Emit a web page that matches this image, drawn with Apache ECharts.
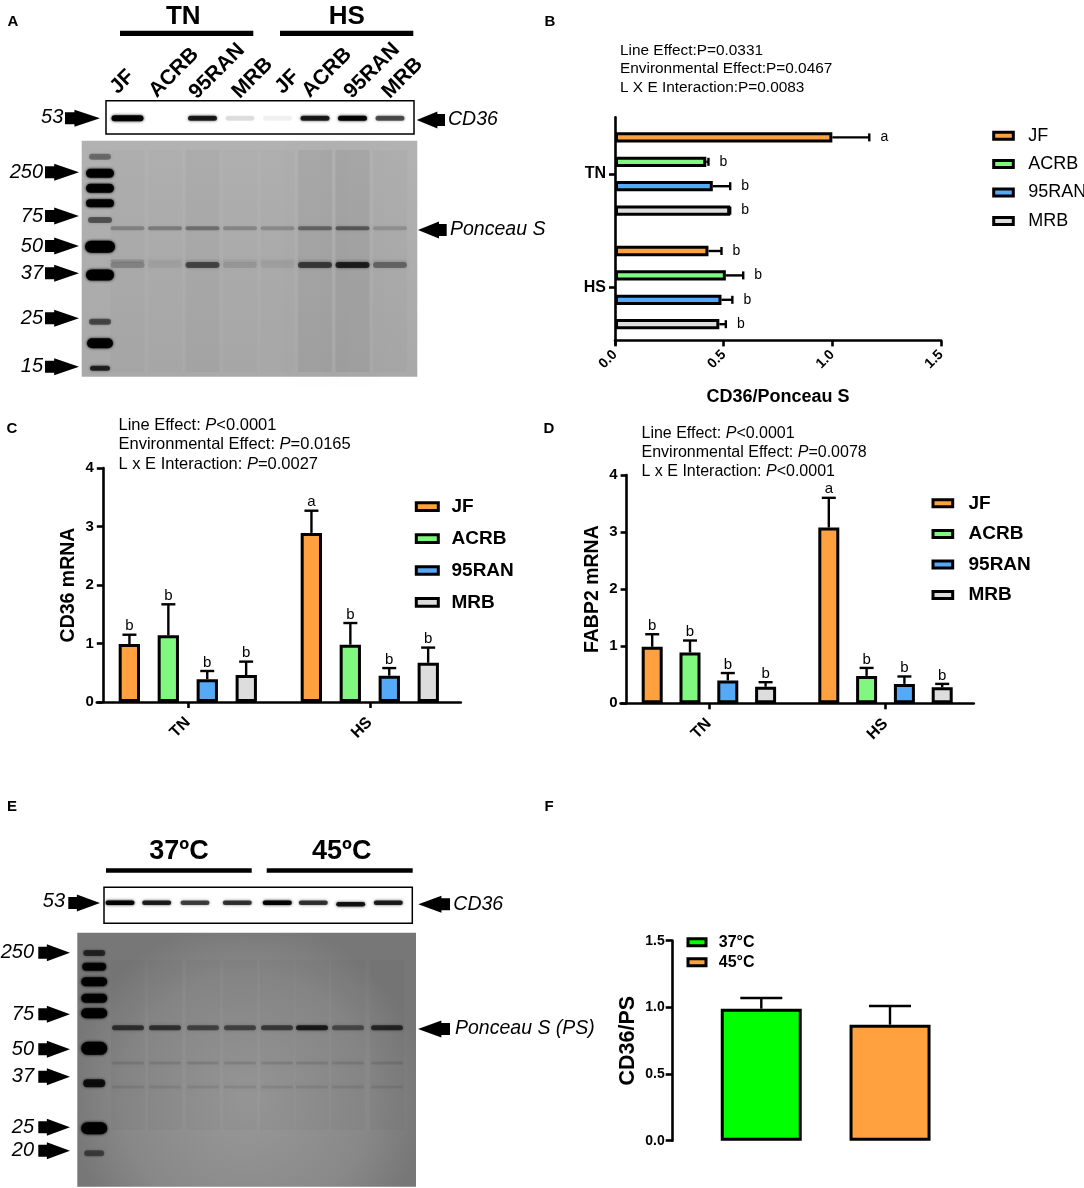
<!DOCTYPE html>
<html>
<head>
<meta charset="utf-8">
<script src="https://cdn.jsdelivr.net/npm/echarts@6/dist/echarts.min.js"></script>
<style>
  html, body { margin: 0; padding: 0; background: #fff; }
  #main { width: 1084px; height: 1188px; }
</style>
</head>
<body>
<div id="main"></div>
<script>
// ---- data ----
const lineNames = ['JF', 'ACRB', '95RAN', 'MRB'];
const envNames = ['TN', 'HS'];
const lineColors = ['#FFA13F', '#80F87F', '#56A9F6', '#DDDDDD'];

// B: CD36/Ponceau S (rows = line, cols = TN, HS)
const protMean = [[1.00, 0.43], [0.42, 0.51], [0.45, 0.49], [0.53, 0.48]];
const protUpper = [[1.17, 0.49], [0.43, 0.59], [0.53, 0.54], [0.53, 0.51]];
const protSig = [['a', 'b'], ['b', 'b'], ['b', 'b'], ['b', 'b']];

// C: CD36 mRNA
const cd36Mean = [[0.99, 2.89], [1.14, 0.98], [0.39, 0.45], [0.46, 0.67]];
const cd36Upper = [[1.15, 3.27], [1.67, 1.35], [0.53, 0.58], [0.69, 0.93]];
const cd36Sig = [['b', 'a'], ['b', 'b'], ['b', 'b'], ['b', 'b']];

// D: FABP2 mRNA
const fabpMean = [[0.99, 3.08], [0.89, 0.48], [0.40, 0.34], [0.29, 0.28]];
const fabpUpper = [[1.21, 3.60], [1.10, 0.62], [0.53, 0.47], [0.37, 0.34]];
const fabpSig = [['b', 'a'], ['b', 'b'], ['b', 'b'], ['b', 'b']];

// F: CD36/PS by temperature
const tempNames = ['37°C', '45°C'];
const tempColors = ['#00FF00', '#FFA13F'];
const tempMean = [0.99, 0.87];
const tempUpper = [1.07, 1.01];

// blot band darkness by lane (0 = none, 1 = black)
const blotACd36 = [0.95, 0.0, 0.8, 0.12, 0.06, 0.8, 0.95, 0.6];
const blotAPs60 = [0.22, 0.25, 0.3, 0.2, 0.18, 0.35, 0.4, 0.15];
const blotAPs37 = [0.2, 0.06, 0.5, 0.1, 0.06, 0.55, 0.7, 0.35];
const blotECd36 = [0.95, 0.8, 0.65, 0.7, 0.95, 0.7, 0.85, 0.8];
const blotEPs = [0.55, 0.55, 0.45, 0.45, 0.5, 0.7, 0.4, 0.6];

const statsB = ['Line Effect:P=0.0331', 'Environmental Effect:P=0.0467', 'L X E Interaction:P=0.0083'];
const statsC = ['Line Effect: {i|P}<0.0001', 'Environmental Effect: {i|P}=0.0165', 'L x E Interaction: {i|P}=0.0027'];
const statsD = ['Line Effect: {i|P}<0.0001', 'Environmental Effect: {i|P}=0.0078', 'L x E Interaction: {i|P}<0.0001'];

// ---- layout ----
const FONT = '"Liberation Sans", Arial, Helvetica, sans-serif';
const AX = { color: '#000', width: 2.6 };
const laneA = [127.5, 165, 202.5, 240, 277.5, 315, 352.5, 390];
const laneECd = [120, 156.7, 195, 237.3, 277.3, 313.3, 350.7, 388.3];
const laneEPs = [128, 165, 203, 240, 277, 312, 348, 387];

const g = [];
function T(x, y, text, size, o) {
  o = o || {};
  const st = {
    text: text, fill: '#000', fontFamily: FONT, fontSize: size,
    fontWeight: o.bold ? 'bold' : 'normal', fontStyle: o.italic ? 'italic' : 'normal',
    align: o.align || 'left', verticalAlign: o.va || 'middle',
    textAlign: o.align || 'left', textVerticalAlign: o.va || 'middle'
  };
  if (o.rich) st.rich = o.rich;
  g.push({ type: 'text', x: x, y: y, rotation: o.rot || 0, z: 20, silent: true, style: st });
}
function R(x, y, w, h, fill, o) {
  o = o || {};
  g.push({ type: 'rect', z: o.z || 10, silent: true,
    shape: { x: x, y: y, width: w, height: h, r: o.r || 0 },
    style: { fill: fill, stroke: o.stroke || null, lineWidth: o.lw || 0,
      shadowBlur: o.blur || 0, shadowColor: o.blur ? fill : 'transparent' } });
}
function arrowR(x0, x1, y) {
  const s = x0 + (x1 - x0) * 0.27, sh = 6, hh = 8.5;
  g.push({ type: 'polygon', z: 20, silent: true, style: { fill: '#000' },
    shape: { points: [[x0, y - sh], [s, y - sh], [s, y - hh], [x1, y], [s, y + hh], [s, y + sh], [x0, y + sh]] } });
}
function arrowL(x0, x1, y) {
  const s = x1 - (x1 - x0) * 0.27, sh = 6, hh = 8.5;
  g.push({ type: 'polygon', z: 20, silent: true, style: { fill: '#000' },
    shape: { points: [[x1, y - sh], [s, y - sh], [s, y - hh], [x0, y], [s, y + hh], [s, y + sh], [x1, y + sh]] } });
}
function band(cx, cy, w, h, a) {
  if (a <= 0) return;
  R(cx - w / 2, cy - h / 2, w, h, 'rgba(0,0,0,' + a + ')', { r: h / 2, blur: 3 });
}
function stats(x, y0, dy, lines, size) {
  lines.forEach(function (s, i) {
    T(x, y0 + i * dy, s, size, { rich: { i: { fontStyle: 'italic', fontSize: size, fontFamily: FONT, fill: '#000' } } });
  });
}

// panel letters
[['A', 13, 22], ['B', 550, 22], ['C', 12, 429], ['D', 549, 429], ['E', 12, 807], ['F', 549, 807]]
  .forEach(function (p) { T(p[1], p[2], p[0], 15, { bold: true, align: 'center' }); });

// ---- panel A blot ----
T(183.3, 17, 'TN', 26, { bold: true, align: 'center' });
T(346.7, 17, 'HS', 26, { bold: true, align: 'center' });
R(120, 30.7, 133.3, 5.3, '#000');
R(280, 30.7, 133.3, 5.3, '#000');
[[118, 95], [157, 98.5], [197, 100], [240, 99.5], [283, 95], [310, 98.5], [352, 99.5], [390, 99.5]]
  .forEach(function (p, i) {
    T(p[0] + 3, p[1] + 3, lineNames[i % 4], 21, { bold: true, rot: Math.PI / 4, va: 'bottom' });
  });
R(106, 100.7, 308, 33.3, '#fff', { stroke: '#000', lw: 1.5 });
laneA.forEach(function (x, i) { band(x, 118.3, i === 0 ? 32 : 29, i === 0 ? 6 : 5, blotACd36[i]); });
T(63.3, 117, '53', 20, { italic: true, align: 'right' });
arrowR(65, 100, 118.3);
arrowL(416.7, 445, 120);
T(448, 120, 'CD36', 19.5, { italic: true });

R(81.7, 140.7, 335.6, 236, { type: 'linear', x: 0, y: 0, x2: 0, y2: 1,
  colorStops: [{ offset: 0, color: '#b2b2b2' }, { offset: 1, color: '#a9a9a9' }] });
[0.02, 0.015, 0.03, 0.015, 0.01, 0.05, 0.06, 0.02].forEach(function (a, i) {
  R(laneA[i] - 17, 150, 34, 222, 'rgba(0,0,0,' + a + ')', { blur: 10 });
});
laneA.forEach(function (x, i) {
  band(x, 228.3, 34, 4, blotAPs60[i]);
  band(x, 265, 34, 6, blotAPs37[i]);
  band(x, 261, 34, 3, i === 0 ? 0.15 : 0.05);
});
[[156.7, 0.35, 22, 6], [173.3, 0.95, 28, 9], [188.3, 0.95, 28, 9], [203.3, 0.95, 28, 8], [220, 0.45, 24, 6],
 [246.7, 1, 30, 12], [275, 1, 28, 11], [321.7, 0.5, 22, 6], [343.3, 0.95, 26, 10], [368.3, 0.7, 20, 5]]
  .forEach(function (b) { band(100, b[0], b[2], b[3], b[1]); });
[['250', 172.3], ['75', 216], ['50', 246], ['37', 273.3], ['25', 318.3], ['15', 366.7]].forEach(function (m) {
  T(43, m[1], m[0], 20, { italic: true, align: 'right' });
  arrowR(45, 79, m[1]);
});
arrowL(418, 446.7, 230);
T(450, 230, 'Ponceau S', 19.5, { italic: true });

// ---- panel E blot ----
T(179, 851.7, '37ºC', 27, { bold: true, align: 'center' });
T(341.7, 851.7, '45ºC', 27, { bold: true, align: 'center' });
R(106, 868.3, 145.7, 4.4, '#000');
R(266.7, 868.3, 146, 4.4, '#000');
R(104, 887.3, 308.3, 36, '#fff', { stroke: '#000', lw: 1.5 });
laneECd.forEach(function (x, i) { band(x, i === 6 ? 904.3 : 902.7, 29, 4.5, blotECd36[i]); });
T(65, 901.7, '53', 20, { italic: true, align: 'right' });
arrowR(68.3, 100, 903);
arrowL(418.3, 450, 904.3);
T(453.3, 904.3, 'CD36', 19.5, { italic: true });

R(77.3, 932.7, 338.7, 254, { type: 'radial', x: 0.5, y: 0.65, r: 0.7,
  colorStops: [{ offset: 0, color: '#999999' }, { offset: 0.7, color: '#888888' }, { offset: 1, color: '#777777' }] });
laneEPs.forEach(function (x, i) {
  R(x - 17, 960, 34, 170, 'rgba(0,0,0,0.025)', { blur: 12 });
  band(x, 1027.7, 32, 5, blotEPs[i]);
  band(x, 1063, 32, 3, 0.1);
  band(x, 1087, 32, 3, 0.08);
});
[[953, 0.6, 22, 6], [966.7, 0.9, 24, 8], [981.7, 0.95, 26, 9], [998.3, 0.95, 26, 9], [1013.3, 1, 26, 10],
 [1048.3, 1, 26, 13], [1083.3, 0.8, 22, 8], [1128.3, 1, 26, 12], [1153.3, 0.45, 20, 6]]
  .forEach(function (b) { band(94.2, b[0], b[2], b[3], b[1]); });
[['250', 952.7], ['75', 1014.3], ['50', 1049.3], ['37', 1076.7], ['25', 1127.3], ['20', 1150.7]].forEach(function (m) {
  T(34, m[1], m[0], 20, { italic: true, align: 'right' });
  arrowR(38.3, 70, m[1]);
});
arrowL(418, 450, 1029);
T(455, 1029, 'Ponceau S (PS)', 19.5, { italic: true });

// ---- stats text ----
stats(620, 50.7, 18.5, statsB, 15.4);
stats(118.5, 425, 19.7, statsC, 16.5);
stats(641.5, 433.7, 19, statsD, 16);

// ---- series helpers ----
function barSeries(names, colors, means, gi, w, gap) {
  return names.map(function (n, k) {
    return {
      name: n, type: 'bar', xAxisIndex: gi, yAxisIndex: gi, data: means[k],
      barWidth: w, barGap: gap, silent: true, z: 2,
      itemStyle: { color: colors[k], borderColor: '#000', borderWidth: 3 }
    };
  });
}
function errSeries(gi, mean, upper, sig, o) {
  const data = [];
  mean.forEach(function (row, k) {
    row.forEach(function (m, j) { data.push([j, m, upper[k][j], k]); });
  });
  return {
    type: 'custom', xAxisIndex: gi, yAxisIndex: gi, z: 5, silent: true, data: data,
    encode: o.horiz ? { x: [1, 2], y: 0 } : { x: 0, y: [1, 2] },
    renderItem: function (params, api) {
      const j = api.value(0), m = api.value(1), u = api.value(2), k = api.value(3);
      const off = (k - (mean.length - 1) / 2) * o.step;
      const s = sig ? sig[k][j] : '';
      const ls = { stroke: '#000', lineWidth: 2.4 };
      if (o.horiz) {
        const p0 = api.coord([m, j]), p1 = api.coord([u, j]);
        const y = p0[1] + off;
        return { type: 'group', children: [
          { type: 'line', shape: { x1: p0[0], y1: y, x2: p1[0], y2: y }, style: ls },
          { type: 'line', shape: { x1: p1[0], y1: y - o.cap / 2, x2: p1[0], y2: y + o.cap / 2 }, style: ls },
          { type: 'text', x: p1[0] + 15, y: y, style: { text: s, fill: '#000', fontFamily: FONT, fontSize: 14,
              align: 'center', verticalAlign: 'middle' } }
        ] };
      }
      const q0 = api.coord([j, m]), q1 = api.coord([j, u]);
      const x = q0[0] + off;
      return { type: 'group', children: [
        { type: 'line', shape: { x1: x, y1: q0[1], x2: x, y2: q1[1] }, style: ls },
        { type: 'line', shape: { x1: x - o.cap / 2, y1: q1[1], x2: x + o.cap / 2, y2: q1[1] }, style: ls },
        { type: 'text', x: x, y: q1[1] - 1, style: { text: s, fill: '#000', fontFamily: FONT, fontSize: 15,
            align: 'center', verticalAlign: 'bottom' } }
      ] };
    }
  };
}
function legendOf(names, left, top, gap, fs, bold, pad, iw, ih, lh) {
  return {
    orient: 'vertical', left: left, top: top, padding: 0, itemGap: gap, itemWidth: iw, itemHeight: ih,
    icon: 'rect', data: names, selectedMode: false,
    itemStyle: { borderColor: '#000', borderWidth: 3 },
    textStyle: { fontFamily: FONT, fontSize: fs, fontWeight: bold ? 'bold' : 'normal', color: '#000',
      lineHeight: lh, padding: [0, 0, 0, pad] }
  };
}
function valueAxis(gi, max, extra) {
  return Object.assign({
    gridIndex: gi, type: 'value', min: 0, max: max, interval: max > 2 ? 1 : 0.5,
    axisLine: { show: true, onZero: false, lineStyle: AX },
    axisTick: { show: true, length: 6, lineStyle: AX },
    splitLine: { show: false },
    axisLabel: { color: '#000', fontWeight: 'bold', fontSize: 15, margin: 9, fontFamily: FONT },
    nameTextStyle: { color: '#000', fontWeight: 'bold', fontSize: 19.5, fontFamily: FONT }
  }, extra);
}
function catAxis(gi, extra) {
  return Object.assign({
    gridIndex: gi, type: 'category', data: envNames,
    axisLine: { show: true, onZero: false, lineStyle: AX },
    axisTick: { show: true, alignWithLabel: true, length: 6, lineStyle: AX },
    axisLabel: { color: '#000', fontWeight: 'bold', fontSize: 16, fontFamily: FONT, rotate: 45, margin: 18 }
  }, extra);
}

const option = {
  animation: false,
  backgroundColor: '#fff',
  textStyle: { fontFamily: FONT },
  graphic: { elements: g },
  grid: [
    { left: 615, top: 117.2, width: 326, height: 227.2 },
    { left: 96.8, top: 468, width: 364, height: 234 },
    { left: 620.6, top: 475, width: 353.2, height: 228.3 },
    { left: 672.7, top: 940.7, width: 305.9, height: 200 }
  ],
  xAxis: [
    valueAxis(0, 1.5, {
      offset: -4, name: 'CD36/Ponceau S', nameLocation: 'middle', nameGap: 48,
      nameTextStyle: { color: '#000', fontWeight: 'bold', fontSize: 18, fontFamily: FONT },
      axisLabel: { color: '#000', fontWeight: 'bold', fontSize: 14, margin: 12, rotate: 45, fontFamily: FONT,
        formatter: function (v) { return v.toFixed(1); } }
    }),
    catAxis(1),
    catAxis(2),
    { gridIndex: 3, type: 'category', data: ['CD36/PS'], show: false }
  ],
  yAxis: [
    catAxis(0, { inverse: true, axisLabel: { color: '#000', fontWeight: 'bold', fontSize: 16, fontFamily: FONT, margin: 9 } }),
    valueAxis(1, 4, { offset: -6, name: 'CD36 mRNA', nameLocation: 'middle', nameRotate: 90, nameGap: 24 }),
    valueAxis(2, 4, { offset: -6, name: 'FABP2 mRNA', nameLocation: 'middle', nameRotate: 90, nameGap: 24 }),
    valueAxis(3, 1.5, {
      name: 'CD36/PS', nameLocation: 'middle', nameRotate: 90, nameGap: 34,
      axisTick: { show: true, length: 7, lineStyle: AX },
      nameTextStyle: { color: '#000', fontWeight: 'bold', fontSize: 21.5, fontFamily: FONT },
      axisLabel: { color: '#000', fontWeight: 'bold', fontSize: 14, margin: 8, fontFamily: FONT,
        formatter: function (v) { return v.toFixed(1); } }
    })
  ],
  legend: [
    legendOf(lineNames, 992.2, 125.7, 8.4, 18, false, 9.9, 19.6, 7, 20),
    legendOf(lineNames, 414.8, 496.7, 11.9, 19, true, 8.2, 22, 7.7, 20),
    legendOf(lineNames, 931.5, 493.3, 10.6, 19, true, 10.8, 19.7, 7, 20),
    legendOf(tempNames, 686.5, 933.3, 2, 16, true, 7.8, 18, 7, 18)
  ],
  series: [].concat(
    barSeries(lineNames, lineColors, protMean, 0, 10.3, '137%'),
    barSeries(lineNames, lineColors, cd36Mean, 1, 21.3, '83%'),
    barSeries(lineNames, lineColors, fabpMean, 2, 21, '80%'),
    barSeries(tempNames, tempColors, tempMean.map(function (v) { return [v]; }), 3, 81, '59%'),
    [
      errSeries(0, protMean, protUpper, protSig, { horiz: true, step: 24.4, cap: 8 }),
      errSeries(1, cd36Mean, cd36Upper, cd36Sig, { step: 38.9, cap: 14 }),
      errSeries(2, fabpMean, fabpUpper, fabpSig, { step: 37.8, cap: 14 }),
      errSeries(3, tempMean.map(function (v) { return [v]; }), tempUpper.map(function (v) { return [v]; }), null, { step: 128.7, cap: 42 })
    ]
  )
};

const chart = echarts.init(document.getElementById('main'));
chart.setOption(option);
</script>
</body>
</html>
